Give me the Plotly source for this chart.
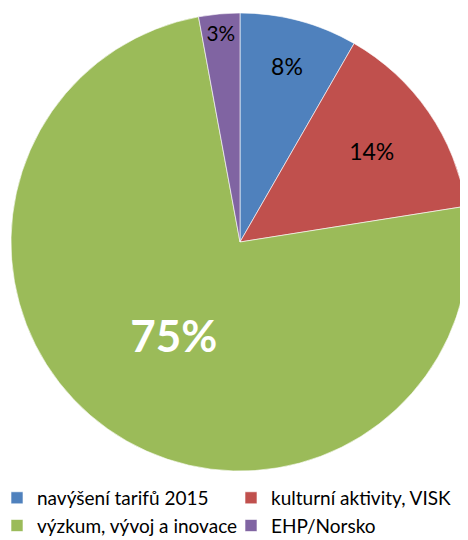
import plotly.graph_objects as go

labels = ["navýšení tarifů 2015", "kulturní aktivity, VISK", "výzkum, vývoj a inovace", "EHP/Norsko"]
values = [8.3, 14.2, 74.6, 2.9]
colors = ["#4F81BD", "#C0504D", "#9BBB59", "#8064A2"]
text_colors = ["black", "black", "white", "black"]
text_sizes = [23, 23, 44, 23]

W, H = 468, 540
BOTTOM = 70                 # room under the plot area for the legend
PH = H - BOTTOM
# page body adds an 8px offset, so the pie centre (240, 242) on screen is (232, 234) here
CX, CY, R = 232, 234, 229

fig = go.Figure(go.Pie(
    labels=labels,
    values=values,
    sort=False,
    direction="clockwise",
    rotation=0,
    marker=dict(colors=colors, line=dict(color="rgba(255,255,255,0.6)", width=1)),
    texttemplate="%{percent:.0%}",
    textposition="inside",
    insidetextorientation="horizontal",
    insidetextfont=dict(color=text_colors, size=text_sizes,
                        family="Lato, 'Open Sans', sans-serif",
                        weight=["normal", "normal", "bold", "normal"]),
    domain=dict(x=[(CX - R) / W, (CX + R) / W],
                y=[1 - (CY + R) / PH, 1 - (CY - R) / PH]),
    hoverinfo="label+percent",
))

fig.update_layout(
    width=W, height=H,
    margin=dict(l=0, r=0, t=0, b=BOTTOM, autoexpand=False),
    paper_bgcolor="white",
    font=dict(family="Lato, 'Open Sans', sans-serif", color="black"),
    legend=dict(
        orientation="h",
        x=-11 / W, y=-0.002, xanchor="left", yanchor="top",
        font=dict(size=19),
        entrywidth=189, entrywidthmode="pixels",
        itemwidth=30,
        traceorder="normal",
    ),
)

fig.write_html("out.html")
